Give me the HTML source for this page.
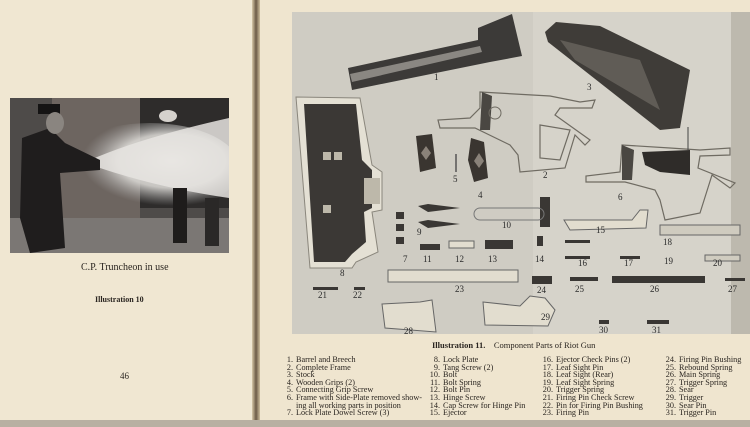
<!DOCTYPE html>
<html><head><meta charset="utf-8"><style>
html,body{margin:0;padding:0}
body{width:750px;height:427px;overflow:hidden;background:#3a3128;position:relative;font-family:"Liberation Serif",serif;color:#2a2520}
.pg{position:absolute;background:#efe5cf}
.t{position:absolute;white-space:nowrap}
.col{position:absolute;font-size:8.2px;line-height:7.6px}
.col div{white-space:nowrap}
.col span{display:inline-block;width:15px;text-align:right;margin-right:3px}
</style></head><body>
<div class="pg" style="left:0;top:0;width:255px;height:427px;background:#f0e7d2"></div>
<div class="pg" style="left:258px;top:0;width:492px;height:427px;background:#efe5cf"></div>
<div style="position:absolute;left:252px;top:0;width:8px;height:427px;background:linear-gradient(90deg,#d8c9a8,#6b5a45,#cdbd9c)"></div>
<div style="position:absolute;left:0;top:420px;width:750px;height:7px;background:#b8b0a2"></div>
<!-- photo -->
<svg style="position:absolute;left:10px;top:98px" width="219" height="155" viewBox="0 0 219 155">
<defs><radialGradient id="sm" cx="0.62" cy="0.42" r="0.5"><stop offset="0" stop-color="#f2f0ec"/><stop offset="0.6" stop-color="#d8d6d2" stop-opacity="0.9"/><stop offset="1" stop-color="#aaa" stop-opacity="0"/></radialGradient></defs>
<rect width="219" height="155" fill="#4e4b49"/>
<rect x="42" y="0" width="88" height="150" fill="#6d6560"/>
<rect x="130" y="0" width="89" height="110" fill="#2e2c2b"/>
<rect x="0" y="120" width="219" height="35" fill="#7b7774"/>
<ellipse cx="140" cy="70" rx="90" ry="45" fill="url(#sm)"/>
<path d="M80 62 Q130 40 219 20 L219 100 Q150 90 90 70Z" fill="#e6e4e0" opacity="0.85"/>
<path d="M12 40 L40 30 L55 45 L90 62 L90 72 L50 75 L55 150 L20 155 L10 120 Z" fill="#1f1d1d"/>
<rect x="28" y="6" width="22" height="10" fill="#151414"/>
<ellipse cx="45" cy="25" rx="9" ry="11" fill="#8a8580"/>
<rect x="163" y="90" width="14" height="55" fill="#1e1c1b"/>
<rect x="195" y="100" width="14" height="48" fill="#2a2827"/>
<ellipse cx="158" cy="18" rx="9" ry="6" fill="#d5d1cc"/>
</svg>
<div class="t" style="left:81px;top:262px;font-size:10px">C.P. Truncheon in use</div>
<div class="t" style="left:95px;top:295px;font-size:8px;font-weight:bold">Illustration 10</div>
<div class="t" style="left:120px;top:371px;font-size:9px">46</div>
<!-- plate -->
<svg style="position:absolute;left:0;top:0" width="750" height="427" viewBox="0 0 750 427" font-family="Liberation Serif, serif" font-size="9" fill="#2a2a2a">
<rect x="292" y="12" width="458" height="322" fill="#cfccc3"/>
<rect x="533" y="12" width="217" height="322" fill="#d6d3ca"/>
<rect x="731" y="12" width="19" height="322" fill="#bdb9ae"/>
<!-- barrel -->
<polygon points="348,68 478,40 478,28 512,14 522,56 490,62 352,90" fill="#3c3a38"/>
<polygon points="350,74 480,46 482,52 352,82" fill="#8a8782"/>
<text x="434" y="80">1</text>
<!-- stock -->
<polygon points="545,32 556,22 600,26 690,70 680,128 660,130 548,42" fill="#3f3c38"/>
<polygon points="560,40 640,60 660,110 575,60" fill="#605c56"/>
<text x="587" y="90">3</text>
<!-- lock plate 8 -->
<polygon points="296,97 360,98 372,165 382,172 382,210 372,212 378,252 356,262 352,268 310,268" fill="#e4e0d4" stroke="#8a867c" stroke-width="1"/>
<polygon points="304,104 356,104 362,160 372,170 372,208 364,212 366,242 352,254 345,262 314,262" fill="#3b3835"/>
<rect x="323" y="152" width="8" height="8" fill="#bdb8aa"/><rect x="334" y="152" width="8" height="8" fill="#bdb8aa"/>
<rect x="364" y="178" width="16" height="26" fill="#bdb8aa"/><rect x="323" y="205" width="8" height="8" fill="#bdb8aa"/>
<text x="340" y="276">8</text>
<!-- frame 2 -->
<g fill="none" stroke="#6f6b62" stroke-width="1.2"><path d="M480,92 L550,96 L580,102 L595,100 L592,108 L560,108 L555,115 L590,140 L585,145 L575,135 L565,168 L520,172 L518,155 L510,145 L475,128 L440,128 L438,120 L470,118 L480,108Z"/><path d="M540,125 L570,130 L560,160 L540,158Z"/></g>
<polygon points="482,92 492,96 490,130 480,130" fill="#4a4742"/>
<circle cx="495" cy="113" r="6" fill="none" stroke="#6f6b62"/>
<text x="543" y="178">2</text>
<!-- grips -->
<polygon points="416,136 432,134 436,168 420,172" fill="#3a3530"/>
<polygon points="471,138 484,142 488,178 474,182 468,160" fill="#3a3530"/>
<polygon points="426,146 431,153 426,160 421,153" fill="#8a8279"/><polygon points="479,153 484,161 479,168 474,161" fill="#8a8279"/>
<line x1="456" y1="154" x2="456" y2="172" stroke="#555" stroke-width="1.5"/>
<text x="453" y="182">5</text><text x="478" y="198">4</text>
<!-- frame 6 -->
<g fill="none" stroke="#6f6b62" stroke-width="1.2"><path d="M622,145 L670,148 L700,150 L730,148 L730,155 L700,156 L698,168 L735,183 L730,188 L712,175 L700,213 L665,220 L660,200 L655,190 L625,182 L586,182 L586,176 L620,172Z"/></g>
<polygon points="622,145 634,150 632,180 622,180" fill="#4a4742"/>
<polygon points="642,152 690,150 690,175 660,172 645,165" fill="#2f2c29"/>
<line x1="688" y1="127" x2="688" y2="150" stroke="#444"/>
<text x="618" y="200">6</text>
<!-- small parts row -->
<g fill="#3a3734">
<rect x="396" y="212" width="8" height="7"/><rect x="396" y="224" width="8" height="7"/><rect x="396" y="237" width="8" height="7"/>
<path d="M418,206 L428,204 L460,208 L428,212Z"/><path d="M418,222 L428,220 L460,224 L428,228Z"/>
<rect x="420" y="244" width="20" height="6"/>
<rect x="485" y="240" width="28" height="9"/>
<rect x="537" y="236" width="6" height="10"/>
<rect x="540" y="197" width="10" height="30"/>
<rect x="388" y="270" width="130" height="12" fill="#e2ddcf" stroke="#666"/>
<rect x="532" y="276" width="20" height="8"/>
<rect x="570" y="277" width="28" height="4"/>
<rect x="612" y="276" width="93" height="7"/>
<rect x="725" y="278" width="20" height="3"/>
<rect x="313" y="287" width="25" height="3"/><rect x="354" y="287" width="11" height="3"/>
<rect x="599" y="320" width="10" height="4"/><rect x="647" y="320" width="22" height="4"/>
<rect x="565" y="240" width="25" height="3"/><rect x="565" y="256" width="25" height="3"/>
<rect x="620" y="256" width="20" height="3"/>
<rect x="660" y="225" width="80" height="10" fill="#cfcbbf" stroke="#666"/>
<rect x="705" y="255" width="35" height="6" fill="#d0ccc0" stroke="#666"/>
</g>
<rect x="449" y="241" width="25" height="7" fill="#e2ddcf" stroke="#666"/>
<rect x="474" y="208" width="70" height="12" rx="6" fill="none" stroke="#777"/>
<path d="M564,220 L632,220 L640,210 L648,210 L646,228 L570,230Z" fill="#e2ddcf" stroke="#666"/>
<path d="M382,304 L420,302 L432,300 L436,332 L385,328Z" fill="#e2ddcf" stroke="#666"/>
<path d="M483,302 L520,306 L530,296 L545,298 L555,310 L548,326 L485,325Z" fill="#e2ddcf" stroke="#666"/>
<text x="502" y="228">10</text><text x="596" y="233">15</text><text x="663" y="245">18</text>
<text x="403" y="262">7</text><text x="423" y="262">11</text><text x="455" y="262">12</text><text x="488" y="262">13</text><text x="535" y="262">14</text>
<text x="417" y="235">9</text><text x="578" y="266">16</text><text x="624" y="266">17</text><text x="664" y="264">19</text><text x="713" y="266">20</text>
<text x="318" y="298">21</text><text x="353" y="298">22</text><text x="455" y="292">23</text><text x="537" y="293">24</text>
<text x="575" y="292">25</text><text x="650" y="292">26</text><text x="728" y="292">27</text>
<text x="404" y="334">28</text><text x="541" y="320">29</text><text x="599" y="333">30</text><text x="652" y="333">31</text>
</svg>
<div class="t" style="left:432px;top:340px;font-size:8.5px"><b>Illustration 11.</b>&nbsp;&nbsp;&nbsp; Component Parts of Riot Gun</div>
<div class="col" style="left:278px;top:356px">
<div><span>1.</span>Barrel and Breech</div><div><span>2.</span>Complete Frame</div><div><span>3.</span>Stock</div><div><span>4.</span>Wooden Grips (2)</div><div><span>5.</span>Connecting Grip Screw</div><div><span>6.</span>Frame with Side-Plate removed show-</div><div><span></span>ing all working parts in position</div><div><span>7.</span>Lock Plate Dowel Screw (3)</div></div>
<div class="col" style="left:425px;top:356px">
<div><span>8.</span>Lock Plate</div><div><span>9.</span>Tang Screw (2)</div><div><span>10.</span>Bolt</div><div><span>11.</span>Bolt Spring</div><div><span>12.</span>Bolt Pin</div><div><span>13.</span>Hinge Screw</div><div><span>14.</span>Cap Screw for Hinge Pin</div><div><span>15.</span>Ejector</div></div>
<div class="col" style="left:538px;top:356px">
<div><span>16.</span>Ejector Check Pins (2)</div><div><span>17.</span>Leaf Sight Pin</div><div><span>18.</span>Leaf Sight (Rear)</div><div><span>19.</span>Leaf Sight Spring</div><div><span>20.</span>Trigger Spring</div><div><span>21.</span>Firing Pin Check Screw</div><div><span>22.</span>Pin for Firing Pin Bushing</div><div><span>23.</span>Firing Pin</div></div>
<div class="col" style="left:661px;top:356px">
<div><span>24.</span>Firing Pin Bushing</div><div><span>25.</span>Rebound Spring</div><div><span>26.</span>Main Spring</div><div><span>27.</span>Trigger Spring</div><div><span>28.</span>Sear</div><div><span>29.</span>Trigger</div><div><span>30.</span>Sear Pin</div><div><span>31.</span>Trigger Pin</div></div>
</body></html>
